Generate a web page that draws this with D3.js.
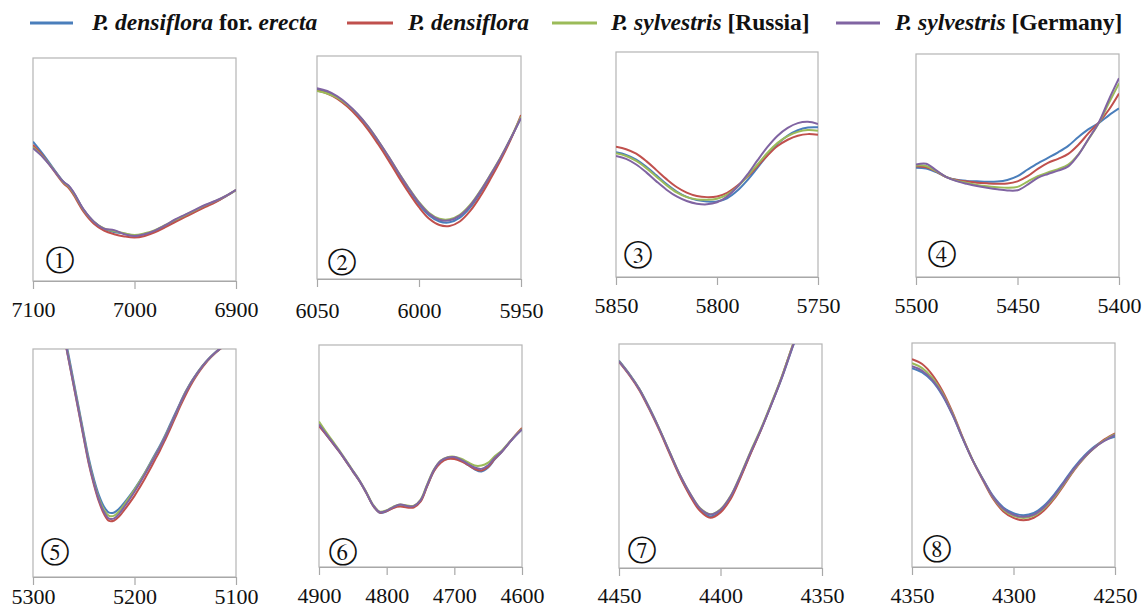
<!DOCTYPE html>
<html>
<head>
<meta charset="utf-8">
<script src="https://cdn.jsdelivr.net/npm/d3@7"></script>
<style>
  html, body { margin: 0; padding: 0; background: #ffffff; }
  svg { display: block; }
</style>
</head>
<body>
<svg id="chart" width="1146" height="609"></svg>
<script>
// ---------------- DATA ----------------
const seriesNames = ["P. densiflora for. erecta", "P. densiflora", "P. sylvestris [Russia]", "P. sylvestris [Germany]"];
const panelLabels = ["①", "②", "③", "④", "⑤", "⑥", "⑦", "⑧"];

// Panel 1
const p1Domain = [7100, 6900];
const p1Ticks = [7100, 7000, 6900];
const p1X = [7100, 7090, 7080, 7070, 7065, 7060, 7050, 7040, 7030, 7020, 7010, 7000, 6990, 6980, 6970, 6960, 6950, 6940, 6930, 6920, 6910, 6900];
const p1Blue = [62.5, 56.8, 50.5, 44.5, 42.6, 39.6, 31.8, 26.5, 23.4, 22.0, 21.2, 20.3, 21.0, 22.4, 24.6, 27.0, 29.2, 31.4, 33.6, 35.6, 38.0, 40.8];
const p1Red = [61.0, 56.0, 49.8, 43.8, 41.8, 38.6, 31.0, 25.7, 22.6, 21.0, 20.0, 19.5, 20.2, 21.8, 24.0, 26.4, 28.8, 31.0, 33.2, 35.4, 38.0, 40.8];
const p1Green = [60.0, 55.6, 50.2, 44.3, 42.5, 39.4, 31.8, 26.6, 23.6, 22.4, 21.4, 20.6, 21.4, 22.8, 25.0, 27.4, 29.6, 31.8, 34.0, 35.9, 38.2, 40.8];
const p1Purple = [59.5, 55.4, 50.0, 44.5, 42.8, 39.8, 32.0, 26.6, 23.5, 22.8, 21.0, 20.2, 21.0, 22.6, 24.9, 27.6, 29.8, 32.0, 34.2, 36.0, 38.2, 40.9];

// Panel 2
const p2Domain = [6050, 5950];
const p2Ticks = [6050, 6000, 5950];
const p2X = [6050, 6045, 6040, 6035, 6030, 6025, 6020, 6015, 6010, 6005, 6000, 5995, 5990, 5985, 5980, 5975, 5970, 5965, 5960, 5955, 5950];
const p2Blue = [85.0, 83.8, 81.5, 78.0, 73.5, 68.0, 61.5, 54.5, 47.0, 40.0, 33.5, 28.5, 25.8, 25.4, 27.5, 32.0, 38.5, 46.0, 54.0, 63.0, 72.5];
const p2Red = [84.5, 83.2, 80.8, 77.2, 72.6, 67.0, 60.4, 53.3, 45.8, 38.7, 32.2, 27.0, 24.2, 23.8, 25.8, 30.4, 37.0, 44.8, 53.2, 62.6, 73.5];
const p2Green = [84.3, 83.2, 81.2, 78.0, 73.8, 68.4, 62.0, 55.0, 47.7, 40.8, 34.5, 29.6, 27.0, 26.8, 28.8, 33.2, 39.5, 46.8, 54.6, 63.3, 72.8];
const p2Purple = [85.6, 84.3, 81.9, 78.4, 73.9, 68.5, 62.0, 55.0, 47.6, 40.6, 34.2, 29.2, 26.6, 26.3, 28.4, 32.8, 39.2, 46.6, 54.4, 63.1, 72.2];

// Panel 3
const p3Domain = [5850, 5750];
const p3Ticks = [5850, 5800, 5750];
const p3X = [5850, 5845, 5840, 5835, 5830, 5825, 5820, 5815, 5810, 5805, 5800, 5795, 5790, 5785, 5780, 5775, 5770, 5765, 5760, 5755, 5750];
const p3Blue = [55.4, 54.3, 52.2, 49.0, 45.2, 41.3, 38.0, 35.6, 34.2, 33.6, 33.6, 35.0, 38.3, 43.0, 48.5, 54.2, 59.2, 62.8, 65.2, 66.4, 66.5];
const p3Red = [57.9, 56.8, 54.8, 51.5, 47.5, 43.5, 40.0, 37.5, 36.0, 35.5, 35.8, 37.4, 40.5, 44.5, 49.2, 54.0, 58.2, 61.0, 62.8, 63.5, 63.2];
const p3Green = [55.0, 53.8, 51.6, 48.4, 44.6, 40.8, 37.6, 35.5, 34.5, 34.3, 34.8, 36.6, 40.0, 44.8, 50.0, 55.2, 59.6, 62.6, 64.5, 65.3, 65.0];
const p3Purple = [53.8, 52.5, 50.0, 46.5, 42.5, 38.8, 35.8, 33.8, 32.6, 32.3, 33.2, 35.8, 40.0, 45.5, 51.8, 57.8, 62.8, 66.3, 68.4, 69.0, 68.0];

// Panel 4
const p4Domain = [5500, 5400];
const p4Ticks = [5500, 5450, 5400];
const p4X = [5500, 5495, 5490, 5485, 5480, 5475, 5470, 5465, 5460, 5455, 5450, 5445, 5440, 5435, 5430, 5425, 5420, 5415, 5410, 5405, 5400];
const p4Blue = [49.0, 48.6, 47.0, 44.8, 43.6, 43.1, 42.9, 42.7, 42.8, 43.5, 45.2, 48.2, 51.0, 53.4, 55.9, 58.8, 62.8, 66.3, 69.0, 72.5, 75.6];
const p4Red = [49.7, 49.2, 47.3, 44.8, 43.5, 42.8, 42.3, 42.0, 41.8, 41.9, 42.9, 45.2, 48.5, 51.2, 53.0, 55.2, 59.3, 64.5, 69.2, 75.0, 82.3];
const p4Green = [50.0, 49.8, 47.5, 44.8, 43.2, 42.2, 41.3, 40.7, 40.3, 40.0, 40.4, 42.8, 45.2, 46.9, 48.4, 50.4, 55.0, 61.8, 68.9, 78.0, 86.8];
const p4Purple = [50.4, 50.8, 47.8, 44.8, 43.0, 41.8, 40.8, 40.0, 39.3, 38.8, 38.9, 41.4, 44.5, 46.2, 47.7, 49.6, 54.8, 62.0, 69.2, 79.5, 89.1];

// Panel 5
const p5Domain = [5300, 5100];
const p5Ticks = [5300, 5200, 5100];
const p5X = [5275, 5270, 5265, 5260, 5255, 5250, 5245, 5240, 5235, 5230, 5225, 5220, 5215, 5210, 5205, 5200, 5195, 5190, 5185, 5180, 5175, 5170, 5165, 5160, 5155, 5150, 5145, 5140, 5135, 5130, 5125, 5120, 5115, 5110, 5105, 5100];
const p5Blue = [119, 108.5, 97.5, 86, 74.5, 63, 52, 43, 35.8, 30.8, 28.2, 28.3, 30.0, 32.6, 35.5, 38.6, 42.0, 45.6, 49.6, 53.6, 57.6, 62.0, 66.8, 71.6, 76.4, 81.0, 85.0, 88.4, 91.5, 94.2, 96.6, 98.7, 100.4, 102, 103.5, 105];
const p5Red = [118, 107, 95.5, 84, 72.5, 60.8, 49.5, 40.5, 33.0, 27.6, 24.6, 24.8, 26.6, 29.4, 32.4, 35.6, 39.2, 43.0, 47.0, 51.2, 55.4, 60.0, 64.8, 69.8, 74.8, 79.5, 83.8, 87.5, 90.8, 93.7, 96.2, 98.4, 100.2, 102, 103.5, 105];
const p5Green = [118.5, 107.5, 96.2, 85, 73.5, 62, 50.8, 41.8, 34.5, 29.4, 26.8, 26.9, 28.9, 31.8, 35.0, 38.2, 41.8, 45.4, 49.2, 53.2, 57.0, 61.5, 66.2, 71.0, 76.0, 80.8, 84.8, 88.2, 91.4, 94.1, 96.5, 98.6, 100.3, 102, 103.5, 105];
const p5Purple = [118.2, 107.2, 95.8, 84.5, 73, 61.4, 50.2, 41.2, 33.8, 28.5, 25.6, 25.7, 27.8, 30.8, 34.0, 37.4, 41.0, 44.8, 48.8, 52.8, 56.8, 61.2, 66.0, 71.0, 76.0, 80.6, 84.7, 88.2, 91.3, 94.1, 96.5, 98.6, 100.3, 102, 103.5, 105];

// Panel 6
const p6Domain = [4900, 4600];
const p6Ticks = [4900, 4800, 4700, 4600];
const p6X = [4900, 4890, 4880, 4870, 4860, 4850, 4840, 4830, 4820, 4810, 4800, 4790, 4780, 4770, 4760, 4750, 4740, 4730, 4720, 4710, 4700, 4690, 4680, 4670, 4660, 4650, 4640, 4630, 4620, 4610, 4600];
const p6Blue = [63.8, 59.9, 55.9, 51.9, 47.6, 43.1, 38.6, 33.3, 27.6, 24.4, 25.1, 26.8, 27.9, 27.4, 27.3, 29.8, 36.6, 43.4, 47.5, 49.1, 49.3, 48.0, 46.0, 44.0, 43.0, 44.8, 48.6, 51.8, 55.5, 59.0, 62.0];
const p6Red = [63.6, 59.8, 55.9, 51.9, 47.6, 43.1, 38.6, 33.3, 27.6, 24.5, 25.2, 26.6, 27.2, 26.8, 26.8, 29.4, 36.5, 43.2, 47.0, 48.6, 48.6, 47.6, 46.0, 44.2, 43.5, 45.2, 48.8, 51.9, 55.6, 59.3, 62.6];
const p6Green = [65.5, 61.0, 56.8, 52.6, 48.1, 43.5, 39.0, 33.7, 28.0, 24.9, 25.6, 27.2, 28.2, 27.7, 27.6, 30.3, 37.3, 44.0, 48.0, 49.5, 49.7, 48.8, 47.2, 45.7, 45.7, 47.0, 50.0, 52.4, 55.8, 59.2, 62.2];
const p6Purple = [64.2, 60.2, 56.2, 52.2, 47.8, 43.3, 38.8, 33.5, 27.8, 24.7, 25.4, 27.0, 28.1, 27.5, 27.4, 30.0, 37.0, 43.8, 47.8, 49.3, 49.5, 48.3, 46.5, 44.8, 44.2, 45.8, 49.2, 52.0, 55.6, 59.0, 62.0];

// Panel 7
const p7Domain = [4450, 4350];
const p7Ticks = [4450, 4400, 4350];
const p7X = [4450, 4445, 4440, 4435, 4430, 4425, 4420, 4415, 4410, 4405, 4400, 4395, 4390, 4385, 4380, 4375, 4370, 4365, 4360, 4355, 4350];
const p7Blue = [92.6, 86.8, 80.0, 71.4, 61.8, 51.4, 41.2, 32.7, 25.9, 23.0, 25.3, 31.4, 41.0, 51.6, 61.8, 72.8, 84.3, 97.3, 110, 122, 134];
const p7Red = [92.0, 86.2, 79.4, 70.7, 61.2, 50.9, 40.8, 32.2, 25.4, 22.4, 24.8, 30.8, 40.6, 51.4, 61.8, 73.0, 84.8, 98, 110.5, 122.5, 134.5];
const p7Green = [92.3, 86.6, 79.9, 71.3, 61.9, 51.7, 41.7, 33.3, 26.7, 24.0, 26.2, 32.2, 41.8, 52.4, 62.4, 73.5, 85.0, 98, 110.5, 122.5, 134.5];
const p7Purple = [92.2, 86.5, 79.8, 71.2, 61.8, 51.6, 41.6, 33.2, 26.5, 23.9, 26.0, 32.0, 41.5, 52.0, 62.0, 73.0, 84.5, 97.5, 110, 122, 134];

// Panel 8
const p8Domain = [4350, 4250];
const p8Ticks = [4350, 4300, 4250];
const p8X = [4350, 4345, 4340, 4335, 4330, 4325, 4320, 4315, 4310, 4305, 4300, 4295, 4290, 4285, 4280, 4275, 4270, 4265, 4260, 4255, 4250];
const p8Blue = [88.8, 86.9, 83.0, 76.6, 67.8, 57.3, 47.5, 39.2, 31.6, 26.6, 24.0, 23.1, 24.1, 27.3, 32.3, 38.4, 44.6, 49.8, 53.9, 56.6, 58.2];
const p8Red = [92.8, 90.6, 85.8, 78.6, 69.0, 57.8, 47.4, 38.6, 30.4, 24.8, 21.9, 20.9, 22.0, 25.2, 30.4, 36.8, 43.4, 48.9, 53.3, 57.1, 59.7];
const p8Green = [91.0, 88.8, 84.4, 77.6, 68.4, 57.6, 47.6, 39.0, 31.0, 25.6, 22.8, 21.9, 22.9, 26.1, 31.1, 37.3, 43.7, 49.0, 53.3, 56.7, 59.3];
const p8Purple = [89.6, 87.6, 83.5, 77.0, 68.0, 57.4, 47.5, 39.0, 31.2, 26.0, 23.3, 22.4, 23.4, 26.6, 31.6, 37.8, 44.0, 49.2, 53.4, 56.4, 59.0];

// ---------------- STYLE / LAYOUT ----------------
const colors = ["#4a7ebb", "#c0504d", "#9bbb59", "#8064a2"];
const panelLayout = [
  { x: 33,  y: 58,  w: 203, h: 223, lab: 36, cx: 27, cy: -23 },
  { x: 317, y: 56,  w: 204, h: 223, lab: 39, cx: 25, cy: -19 },
  { x: 616, y: 52,  w: 202, h: 225, lab: 36, cx: 22, cy: -24 },
  { x: 916, y: 54,  w: 203, h: 223, lab: 36, cx: 26, cy: -25 },
  { x: 33,  y: 349, w: 203, h: 228, lab: 27, cx: 22, cy: -27 },
  { x: 319, y: 345, w: 203, h: 222, lab: 36, cx: 24, cy: -17 },
  { x: 619, y: 344, w: 203, h: 224, lab: 35, cx: 23, cy: -20 },
  { x: 912, y: 343, w: 203, h: 224, lab: 36, cx: 25, cy: -20 }
];
const panels = [
  { domain: p1Domain, ticks: p1Ticks, xs: p1X, ys: [p1Blue, p1Red, p1Green, p1Purple] },
  { domain: p2Domain, ticks: p2Ticks, xs: p2X, ys: [p2Blue, p2Red, p2Green, p2Purple] },
  { domain: p3Domain, ticks: p3Ticks, xs: p3X, ys: [p3Blue, p3Red, p3Green, p3Purple] },
  { domain: p4Domain, ticks: p4Ticks, xs: p4X, ys: [p4Blue, p4Red, p4Green, p4Purple] },
  { domain: p5Domain, ticks: p5Ticks, xs: p5X, ys: [p5Blue, p5Red, p5Green, p5Purple] },
  { domain: p6Domain, ticks: p6Ticks, xs: p6X, ys: [p6Blue, p6Red, p6Green, p6Purple] },
  { domain: p7Domain, ticks: p7Ticks, xs: p7X, ys: [p7Blue, p7Red, p7Green, p7Purple] },
  { domain: p8Domain, ticks: p8Ticks, xs: p8X, ys: [p8Blue, p8Red, p8Green, p8Purple] }
];

const svg = d3.select("#chart").style("font-family", '"Liberation Serif"');
svg.append("rect").attr("width", 1146).attr("height", 609).attr("fill", "#ffffff");
const defs = svg.append("defs");

panels.forEach((p, i) => {
  const L = panelLayout[i];
  const g = svg.append("g").attr("transform", `translate(${L.x},${L.y})`);
  const x = d3.scaleLinear().domain(p.domain).range([0, L.w]);
  const y = d3.scaleLinear().domain([0, 100]).range([L.h, 0]);

  defs.append("clipPath").attr("id", "clip" + i)
    .append("rect").attr("x", 0).attr("y", 0).attr("width", L.w).attr("height", L.h);

  g.append("rect").attr("x", 0).attr("y", 0).attr("width", L.w).attr("height", L.h)
    .attr("fill", "#ffffff").attr("stroke", "#b4b4b4").attr("stroke-width", 1.2);

  const line = d3.line().x(d => x(d[0])).y(d => y(d[1])).curve(d3.curveCatmullRom.alpha(0.5));
  const cg = g.append("g").attr("clip-path", `url(#clip${i})`);
  p.ys.forEach((vals, s) => {
    cg.append("path")
      .datum(p.xs.map((xv, k) => [xv, vals[k]]))
      .attr("fill", "none")
      .attr("stroke", colors[s])
      .attr("stroke-width", 2)
      .attr("stroke-linejoin", "round")
      .attr("d", line);
  });

  const ax = g.append("g").attr("transform", `translate(0,${L.h})`)
    .call(d3.axisBottom(x).tickValues(p.ticks).tickFormat(d => String(d)).tickSize(8).tickSizeOuter(0));
  // remove the default sans-serif font set by d3.axis so text inherits the serif root font
  ax.attr("font-family", null).attr("font-size", null);
  ax.select(".domain").attr("stroke", "#a8a8a8").attr("stroke-width", 1.2);
  ax.selectAll(".tick line").attr("stroke", "#a8a8a8").attr("stroke-width", 1.2);
  ax.selectAll(".tick text")
    .attr("y", L.lab).attr("dy", null)
    .attr("fill", "#111")
    .attr("style", 'font-family: "Liberation Serif"; font-size: 22px; font-weight: normal; font-style: normal');

  g.append("text")
    .attr("x", L.cx).attr("y", L.h + L.cy + 10)
    .attr("text-anchor", "middle")
    .style("font-family", '"FreeSerif"')
    .style("font-size", "30px").attr("fill", "#111")
    .text(panelLabels[i]);
});

// ---------------- LEGEND ----------------
const legendPos = [
  { x1: 30, x2: 73, tx: 92 },
  { x1: 347, x2: 393, tx: 408 },
  { x1: 552, x2: 597, tx: 611 },
  { x1: 836, x2: 880, tx: 895 }
];
const legendParts = [
  [["P.", true], [" densiflora", true], [" for.", false], [" erecta", true]],
  [["P.", true], [" densiflora", true]],
  [["P.", true], [" sylvestris", true], [" [Russia]", false]],
  [["P.", true], [" sylvestris", true], [" [Germany]", false]]
];
const lg = svg.append("g");
seriesNames.forEach((name, s) => {
  const P = legendPos[s];
  lg.append("line").attr("x1", P.x1).attr("x2", P.x2).attr("y1", 23).attr("y2", 23)
    .attr("stroke", colors[s]).attr("stroke-width", 3);
  const t = lg.append("text").attr("x", P.tx).attr("y", 30)
    .style("font-family", '"Liberation Serif"').style("font-size", "23.5px").style("font-weight", "bold").attr("fill", "#111");
  legendParts[s].forEach(([txt, it]) => {
    t.append("tspan").style("font-style", it ? "italic" : "normal").text(txt);
  });
});
</script>
</body>
</html>
